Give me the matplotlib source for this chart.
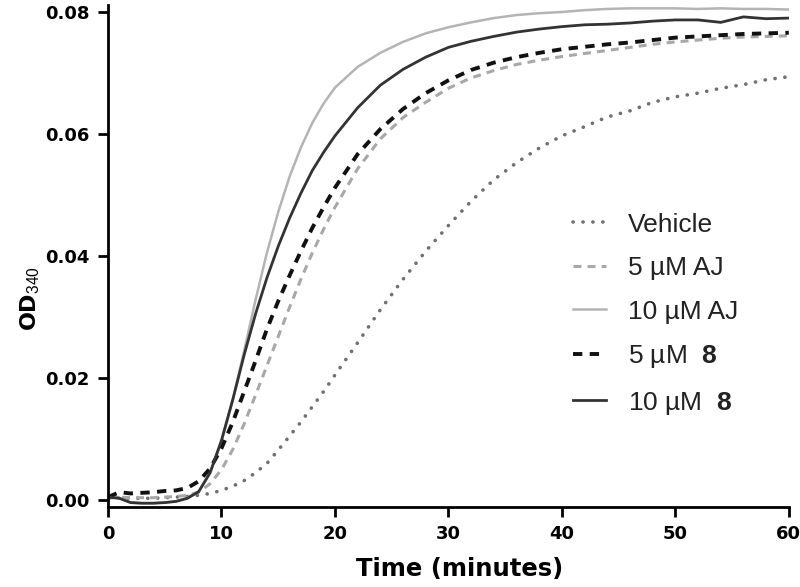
import numpy as np
import matplotlib
matplotlib.use("Agg")
import matplotlib.pyplot as plt

plt.rcParams["font.family"] = ["Liberation Sans", "DejaVu Sans"]
plt.rcParams["mathtext.fontset"] = "custom"
plt.rcParams["mathtext.rm"] = "Liberation Sans"
plt.rcParams["mathtext.bf"] = "Liberation Sans:bold"

# ---- data ----
time_min = [0, 1, 2, 3, 4, 5, 6, 7, 8, 9, 10, 11, 12, 13, 14, 15, 16, 17, 18, 19, 20,
            22, 24, 26, 28, 30, 32, 34, 36, 38, 40, 42, 44, 46, 48, 50, 52, 54, 56, 58, 60]

vehicle = [0.0003, 0.0004, 0.0003, 0.0003, 0.0003, 0.0004, 0.0005, 0.0006, 0.0008, 0.0011,
           0.0016, 0.0023, 0.0032, 0.0045, 0.0060, 0.0082, 0.0105, 0.0128, 0.0153, 0.0178, 0.0205,
           0.0258, 0.0312, 0.0362, 0.0408, 0.0450, 0.0490, 0.0525, 0.0553, 0.0577, 0.0597,
           0.0612, 0.0628, 0.0638, 0.0652, 0.0661, 0.0667, 0.0675, 0.0681, 0.0689, 0.0694]

aj_5 = [0.0003, 0.0005, 0.0004, 0.0004, 0.0004, 0.0005, 0.0006, 0.0008, 0.0013, 0.0027,
        0.0050, 0.0083, 0.0125, 0.0172, 0.0220, 0.0268, 0.0316, 0.0362, 0.0405, 0.0444, 0.0480,
        0.0543, 0.0592, 0.0627, 0.0652, 0.0675, 0.0692, 0.0704, 0.0714, 0.0721, 0.0727,
        0.0732, 0.0737, 0.0742, 0.0747, 0.0751, 0.0754, 0.0757, 0.0759, 0.0760, 0.0761]

aj_10 = [0.0006, 0.0004, -0.0004, -0.0005, -0.0005, -0.0004, -0.0002, 0.0004, 0.0015, 0.0045,
         0.0095, 0.0165, 0.0245, 0.0328, 0.0405, 0.0472, 0.0530, 0.0578, 0.0618, 0.0650, 0.0676,
         0.0710, 0.0733, 0.0751, 0.0765, 0.0775, 0.0783, 0.0790, 0.0795, 0.0798, 0.0800,
         0.0803, 0.0805, 0.0806, 0.0806, 0.0806, 0.0805, 0.0806, 0.0805, 0.0805, 0.0804]

cmpd8_5 = [0.0005, 0.0013, 0.0011, 0.0012, 0.0013, 0.0015, 0.0016, 0.0020, 0.0031, 0.0052,
           0.0085, 0.0128, 0.0178, 0.0228, 0.0280, 0.0326, 0.0368, 0.0408, 0.0446, 0.0480, 0.0512,
           0.0567, 0.0608, 0.0641, 0.0667, 0.0688, 0.0705, 0.0717, 0.0726, 0.0733, 0.0739,
           0.0743, 0.0747, 0.0750, 0.0754, 0.0758, 0.0760, 0.0762, 0.0764, 0.0765, 0.0766]

cmpd8_10 = [0.0005, 0.0003, -0.0004, -0.0005, -0.0005, -0.0004, -0.0002, 0.0003, 0.0014, 0.0045,
            0.0098, 0.0165, 0.0238, 0.0305, 0.0364, 0.0416, 0.0462, 0.0503, 0.0540, 0.0570, 0.0597,
            0.0643, 0.0680, 0.0706, 0.0726, 0.0742, 0.0752, 0.0760, 0.0767, 0.0772, 0.0776,
            0.0779, 0.0780, 0.0782, 0.0785, 0.0787, 0.0787, 0.0783, 0.0792, 0.0789, 0.0790]

labels = ["Vehicle", "5 µM AJ", "10 µM AJ", "5 µM  $\\mathbf{8}$", "10 µM  $\\mathbf{8}$"]

# ---- figure ----
fig = plt.figure(figsize=(8.0, 5.87), dpi=100)
ax = fig.add_axes([0.135, 0.136, 0.851, 0.855])

ax.plot(time_min, vehicle, color="#707070", lw=2.6, linestyle=(0, (0.05, 2.7)),
        dash_capstyle="round", label=labels[0])
ax.plot(time_min, aj_5, color="#a8a8a8", lw=2.2, linestyle=(0, (2.6, 2.0)), label=labels[1])
ax.plot(time_min, aj_10, color="#b4b4b4", lw=1.8, label=labels[2])
ax.plot(time_min, cmpd8_5, color="#111111", lw=2.8, linestyle=(0, (2.4, 1.9)), label=labels[3])
ax.plot(time_min, cmpd8_10, color="#333333", lw=2.0, label=labels[4])

ax.set_xlim(0, 60)
ax.set_ylim(-0.00115, 0.0811)
ax.set_xticks(np.arange(0, 61, 10))
ax.set_yticks([0.00, 0.02, 0.04, 0.06, 0.08])
ax.yaxis.set_major_formatter(matplotlib.ticker.FormatStrFormatter("%.2f"))

for side in ["top", "right"]:
    ax.spines[side].set_visible(False)
for side in ["left", "bottom"]:
    ax.spines[side].set_linewidth(2)
ax.tick_params(direction="out", length=7, width=2, labelsize=13)
ax.tick_params(axis="x", pad=6)
ax.tick_params(axis="y", pad=6)
for lab in ax.get_xticklabels() + ax.get_yticklabels():
    lab.set_fontfamily("DejaVu Sans")
    lab.set_fontweight("bold")

ax.set_xlabel("Time (minutes)", fontsize=17.5, fontweight="bold", family=["DejaVu Sans"])
ax.set_ylabel("OD$_{340}$", fontsize=16, fontweight="bold", family=["DejaVu Sans"])
ax.xaxis.set_label_coords(0.517, -0.10)
ax.yaxis.set_label_coords(-0.097, 0.416)

leg = ax.legend(loc="upper left", bbox_to_anchor=(0.667, 0.608), frameon=False,
                prop={"family": "Liberation Sans", "size": 19},
                handlelength=1.25, handletextpad=0.85, labelspacing=0.74,
                borderaxespad=0)
for txt in leg.get_texts():
    txt.set_color("#222222")

fig.savefig("out.png", dpi=100)
